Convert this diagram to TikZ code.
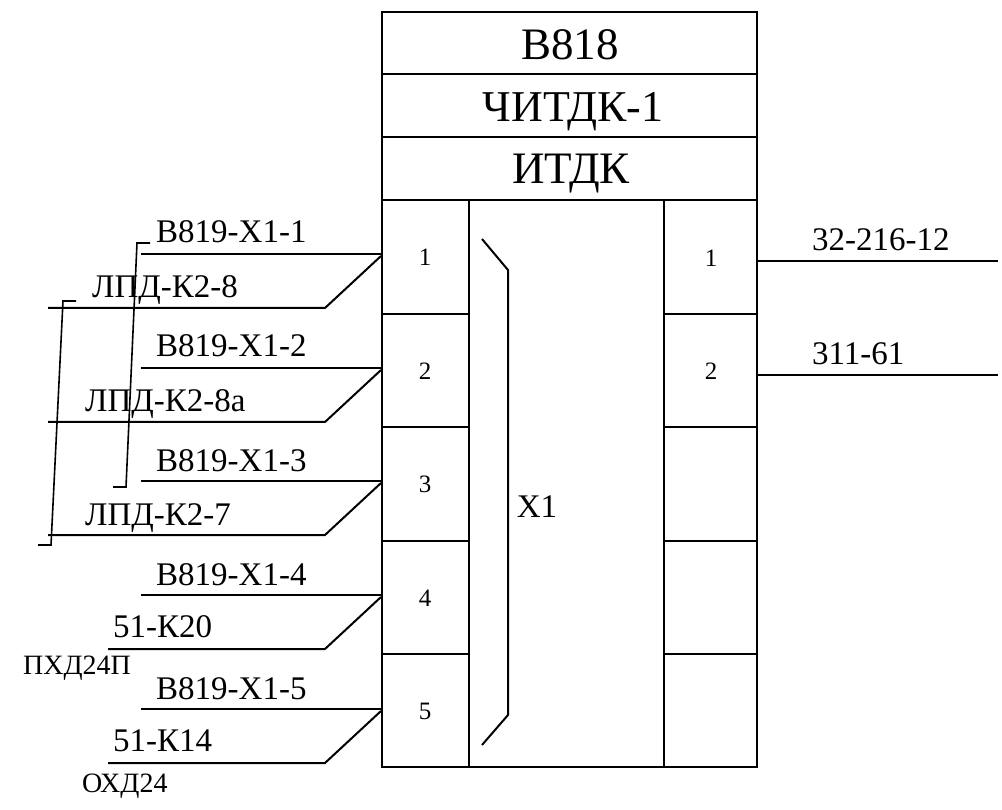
\documentclass[tikz,border=0pt]{standalone}
\usepackage{fontspec}
\setmainfont{Liberation Serif}
\tikzset{
 ln/.style={draw=black,line width=2pt,line cap=butt,line join=miter},
 thin ln/.style={draw=black,line width=1.6pt,line cap=butt,line join=miter},
 big/.style={font=\fontsize{45}{46}\selectfont,inner sep=0pt,text=black,anchor=base},
 lab/.style={font=\fontsize{33}{34}\selectfont,inner sep=0pt,text=black,anchor=base west},
 num/.style={font=\fontsize{25}{26}\selectfont,inner sep=0pt,text=black},
 small/.style={font=\fontsize{28}{29}\selectfont,inner sep=0pt,text=black,anchor=base west},
}
\begin{document}
\begin{tikzpicture}[x=1pt,y=-1pt]
\useasboundingbox (0,0) rectangle (1002,810);
\fill[white] (0,0) rectangle (1002,810);
% main box
\coordinate (TL) at (382,12);
\coordinate (BR) at (757,767);
\draw[ln] (TL) rectangle (BR);
\foreach \y/\n in {74/a,137/b,200/c}{
 \coordinate (l\n) at (382,\y); \coordinate (r\n) at (757,\y);
 \draw[ln] (l\n) -- (r\n);
}
\node[big] (t1) at (570,60) {В818};
\node[big,font=\fontsize{44}{45}\selectfont] (t2) at (573,122) {ЧИТДК-1};
\node[big] (t3) at (571,184) {ИТДК};
% columns
\coordinate (c1t) at (469,200); \coordinate (c1b) at (469,767);
\coordinate (c2t) at (664,200); \coordinate (c2b) at (664,767);
\draw[ln] (c1t) -- (c1b);
\draw[ln] (c2t) -- (c2b);
\foreach \y/\n in {314/1,427/2,541/3,654/4}{
 \coordinate (a\n) at (382,\y); \coordinate (b\n) at (469,\y);
 \coordinate (d\n) at (664,\y); \coordinate (e\n) at (757,\y);
 \draw[ln] (a\n) -- (b\n);
 \draw[ln] (d\n) -- (e\n);
}
\foreach \y/\n in {257/1,371/2,484/3,598/4,711/5}{
 \node[num] (p\n) at (425,\y) {\n};
}
\node[num] (q1) at (711,258) {1};
\node[num] (q2) at (711,371) {2};
% bracket X1
\coordinate (x1) at (482,239); \coordinate (x2) at (508,270);
\coordinate (x3) at (508,715); \coordinate (x4) at (482,745);
\draw[ln] (x1) -- (x2) -- (x3) -- (x4);
\node[font=\fontsize{33}{34}\selectfont,inner sep=0pt] (xl) at (537,507) {Х1};
% left wires
\foreach \n/\y/\x in {1/254/48,2/368/48,3/481/48,4/595/108,5/709/108}{
 \coordinate (w\n) at (381,\y);
 \coordinate (u\n) at (141,\y);
 \coordinate (v\n) at (325,\y+54);
 \coordinate (s\n) at (\x,\y+54);
 \draw[ln] (u\n) -- (w\n);
 \coordinate (w\n b) at (381,\y+2);
 \draw[ln] (w\n b) -- (v\n) -- (s\n);
}
% right wires
\coordinate (o1) at (757,261); \coordinate (o1e) at (998,261);
\coordinate (o2) at (757,375); \coordinate (o2e) at (998,375);
\draw[ln] (o1) -- (o1e);
\draw[ln] (o2) -- (o2e);
\node[lab] (r1) at (812,251) {32-216-12};
\node[lab] (r2) at (812,365) {311-61};
% labels
\node[lab] (l1) at (156,243) {В819-Х1-1};
\node[lab] (l2) at (156,357) {В819-Х1-2};
\node[lab] (l3) at (156,471) {В819-Х1-3};
\node[lab] (l4) at (156,585) {В819-Х1-4};
\node[lab] (l5) at (156,699) {В819-Х1-5};
\node[lab] (m1) at (92,298) {ЛПД-К2-8};
\node[lab] (m2) at (85,412) {ЛПД-К2-8а};
\node[lab] (m3) at (85,525) {ЛПД-К2-7};
\node[lab] (m4) at (113,637) {51-К20};
\node[lab] (m5) at (113,751) {51-К14};
\node[small] (n1) at (23,674) {ПХД24П};
\node[small] (n2) at (82,792) {ОХД24};
% jumpers
\coordinate (j1) at (150,243); \coordinate (j2) at (137,243);
\coordinate (j3) at (126,487); \coordinate (j4) at (113,487);
\draw[thin ln] (j1) -- (j2) -- (j3) -- (j4);
\coordinate (k1) at (76,301); \coordinate (k2) at (63,301);
\coordinate (k3) at (51,545); \coordinate (k4) at (38,545);
\draw[thin ln] (k1) -- (k2) -- (k3) -- (k4);
\end{tikzpicture}
\end{document}
